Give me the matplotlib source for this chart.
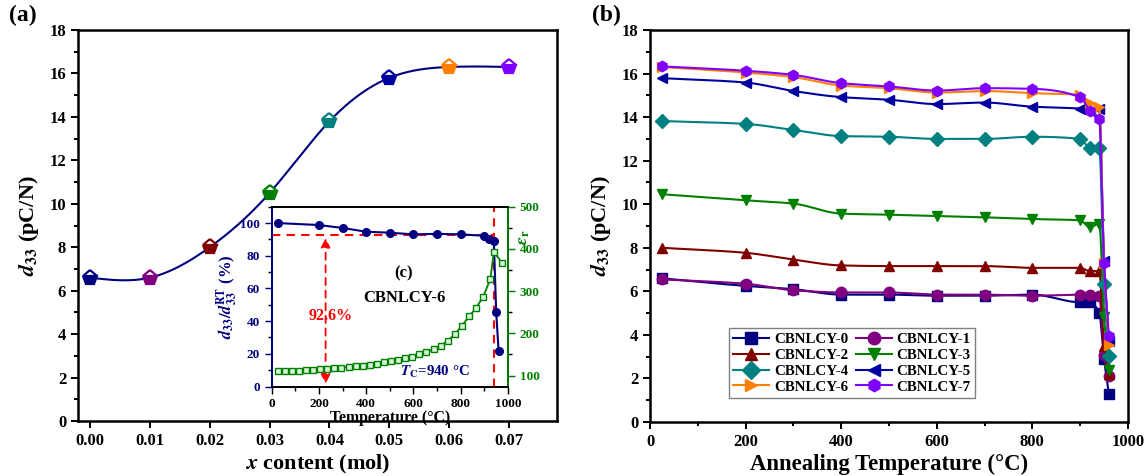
import numpy as np
import matplotlib.pyplot as plt
from matplotlib.lines import Line2D
from matplotlib.ticker import MultipleLocator

plt.rcParams['font.family'] = 'Liberation Serif'
plt.rcParams['font.weight'] = 'bold'
plt.rcParams['axes.labelweight'] = 'bold'
plt.rcParams['mathtext.fontset'] = 'stix'

# (a) d33 vs x content
x_content = [0.00, 0.01, 0.02, 0.03, 0.04, 0.05, 0.06, 0.07]
d33_x = [6.6, 6.6, 8.0, 10.5, 13.8, 15.8, 16.3, 16.3]

# (b) d33 after annealing
anneal_T = [25, 200, 300, 400, 500, 600, 700, 800, 900, 920, 940, 950, 960]
labels = ['CBNLCY-0', 'CBNLCY-1', 'CBNLCY-2', 'CBNLCY-3',
          'CBNLCY-4', 'CBNLCY-5', 'CBNLCY-6', 'CBNLCY-7']
d33_0 = [6.6, 6.25, 6.1, 5.85, 5.85, 5.8, 5.8, 5.85, 5.5, 5.5, 5.0, 2.9, 1.3]
d33_1 = [6.55, 6.35, 6.05, 5.95, 5.95, 5.85, 5.85, 5.8, 5.85, 5.85, 5.8, 3.1, 2.1]
d33_2 = [8.0, 7.77, 7.46, 7.19, 7.16, 7.16, 7.16, 7.08, 7.08, 6.93, 6.93, 3.5, 2.2]
d33_3 = [10.46, 10.18, 10.03, 9.57, 9.52, 9.46, 9.4, 9.32, 9.26, 8.95, 9.1, 4.8, 2.4]
d33_4 = [13.82, 13.69, 13.41, 13.13, 13.1, 13.0, 13.0, 13.1, 13.0, 12.6, 12.6, 6.35, 3.04]
d33_5 = [15.79, 15.59, 15.2, 14.92, 14.8, 14.6, 14.67, 14.48, 14.39, 14.3, 14.36, 7.4, 3.7]
d33_6 = [16.3, 16.05, 15.84, 15.45, 15.33, 15.13, 15.2, 15.1, 15.02, 14.64, 14.48, 7.3, 3.55]
d33_7 = [16.33, 16.13, 15.94, 15.56, 15.41, 15.22, 15.33, 15.3, 14.92, 14.3, 13.9, 7.3, 3.96]
colors = ['#000080', '#800080', '#800000', '#008000',
          '#008080', '#0000A0', '#FF8000', '#8000FF']
markers = ['s', 'o', '^', 'v', 'D', '<', '>', 'h']

# (c) inset: normalised d33 and permittivity of CBNLCY-6
ratio_T = [25, 200, 300, 400, 500, 600, 700, 800, 900, 920, 940, 950, 960]
ratio = [100, 98.8, 97, 94.7, 94.1, 93.1, 93.4, 93.1, 92.2, 90, 89, 45.6, 22]
eps_T = [25, 55, 85, 115, 145, 175, 205, 235, 265, 295, 325, 355, 385, 415,
         445, 475, 505, 535, 565, 595, 625, 655, 685, 715, 745, 775, 805,
         835, 865, 895, 925, 940, 975]
eps_r = [110, 110.5, 111, 111.5, 112.5, 113.5, 114.5, 115.5, 117, 118.5, 120,
         121.5, 123.5, 125.5, 128, 131, 134, 137.5, 141, 145, 150, 156, 163,
         171, 182, 198, 218, 240, 260, 287, 328, 393, 367]
Tc = 940
retention = 92.6


def natural_spline(x, y, xs):
    x = np.asarray(x, float)
    y = np.asarray(y, float)
    n = len(x)
    h = np.diff(x)
    A = np.zeros((n, n))
    b = np.zeros(n)
    A[0, 0] = A[-1, -1] = 1
    for i in range(1, n - 1):
        A[i, i - 1] = h[i - 1]
        A[i, i] = 2 * (h[i - 1] + h[i])
        A[i, i + 1] = h[i]
        b[i] = 3 * ((y[i + 1] - y[i]) / h[i] - (y[i] - y[i - 1]) / h[i - 1])
    c = np.linalg.solve(A, b)
    k = np.clip(np.searchsorted(x, xs) - 1, 0, n - 2)
    dx = xs - x[k]
    bk = (y[k + 1] - y[k]) / h[k] - h[k] * (2 * c[k] + c[k + 1]) / 3
    dk = (c[k + 1] - c[k]) / (3 * h[k])
    return y[k] + bk * dx + c[k] * dx ** 2 + dk * dx ** 3


def pchip(x, y, xs):
    x = np.asarray(x, float)
    y = np.asarray(y, float)
    n = len(x)
    h = np.diff(x)
    delta = np.diff(y) / h
    m = np.zeros(n)
    m[0], m[-1] = delta[0], delta[-1]
    for i in range(1, n - 1):
        if delta[i - 1] * delta[i] > 0:
            w1 = 2 * h[i] + h[i - 1]
            w2 = h[i] + 2 * h[i - 1]
            m[i] = (w1 + w2) / (w1 / delta[i - 1] + w2 / delta[i])
    k = np.clip(np.searchsorted(x, xs) - 1, 0, n - 2)
    t = (xs - x[k]) / h[k]
    h00 = 2 * t ** 3 - 3 * t ** 2 + 1
    h10 = t ** 3 - 2 * t ** 2 + t
    h01 = -2 * t ** 3 + 3 * t ** 2
    h11 = t ** 3 - t ** 2
    return h00 * y[k] + h10 * h[k] * m[k] + h01 * y[k + 1] + h11 * h[k] * m[k + 1]


def style_axis(ax, lw=1.8, size=12):
    for s in ax.spines.values():
        s.set_linewidth(lw)
    ax.tick_params(which='both', direction='out', width=lw * 0.8, labelsize=size)
    ax.tick_params(which='major', length=5)
    ax.tick_params(which='minor', length=3)


fig = plt.figure(figsize=(11.47, 4.76), dpi=100)

# ---- (a) ----
ax1 = fig.add_axes([0.068, 0.1155, 0.4176, 0.8214])
xs = np.linspace(x_content[0], x_content[-1], 300)
ax1.plot(xs, natural_spline(x_content, d33_x, xs), color='#000080', lw=1.5)
for xi, yi, c in zip(x_content, d33_x, colors):
    ax1.plot(xi, yi, marker='p', ms=11, color=c, mec=c, mew=1.6,
             fillstyle='bottom', markerfacecoloralt='white', zorder=3)
ax1.set_xlim(-0.002, 0.078)
ax1.set_ylim(0, 18)
ax1.set_xticks(x_content)
ax1.set_xticklabels([f'{v:.2f}' for v in x_content])
ax1.yaxis.set_major_locator(MultipleLocator(2))
ax1.yaxis.set_minor_locator(MultipleLocator(1))
style_axis(ax1)
ax1.set_xlabel(r'$\mathbfit{x}$ content (mol)', fontsize=16, labelpad=3)
ax1.set_ylabel(r'$\mathbfit{d}_{\mathbf{33}}$ (pC/N)', fontsize=16, labelpad=6)

# ---- (c) inset ----
axc = fig.add_axes([0.2369, 0.188, 0.206, 0.3777])
axc.set_facecolor('white')
axc.plot([0, Tc], [retention, retention], color='#FF0000', lw=1.5, ls=(0, (4, 3)))
axc.axvline(Tc, color='#FF0000', lw=1.5, ls=(0, (4, 3)))
axc.annotate('', xy=(228, 0), xytext=(228, retention),
             arrowprops=dict(arrowstyle='<|-|>', color='#FF0000', lw=1.3,
                             ls=(0, (4, 3)), mutation_scale=14))
axc.plot(ratio_T, ratio, color='#000080', lw=1.5, marker='o', ms=5.5,
         mfc='#000080', mec='#000080', zorder=4)
axc.text(250, 43, '92.6%', color='#FF0000', fontsize=11.5, ha='center', va='center')
axc.text(560, 69, '(c)', fontsize=12, ha='center', va='center')
axc.text(560, 54, 'CBNLCY-6', fontsize=12, ha='center', va='center')
axc.text(690, 9, r'$\mathbfit{T}_{\mathbf{C}}$=940 °C', color='#000080',
         fontsize=10.7, ha='center', va='center')
axc.set_xlim(0, 1000)
axc.set_ylim(0, 110)
axc.xaxis.set_major_locator(MultipleLocator(200))
axc.xaxis.set_minor_locator(MultipleLocator(100))
axc.yaxis.set_major_locator(MultipleLocator(20))
axc.yaxis.set_minor_locator(MultipleLocator(10))
style_axis(axc, lw=1.3, size=9.5)
axc.spines['left'].set_color('#000080')
axc.tick_params(axis='y', colors='#000080')
axc.set_xlabel('Temperature (°C)', fontsize=11.4, labelpad=0)
axc.set_ylabel(r'$\mathbfit{d}_{\mathbf{33}}/\mathbfit{d}_{\mathbf{33}}^{\mathbf{RT}}$ (%)',
               fontsize=12, color='#000080', labelpad=0)

axe = axc.twinx()
axe.plot(eps_T, eps_r, color='#008000', lw=1.3, marker='s', ms=4.5,
         mfc='#d8f2d8', mec='#008000', mew=1.0)
axe.set_ylim(74, 500)
axe.yaxis.set_major_locator(MultipleLocator(100))
axe.yaxis.set_minor_locator(MultipleLocator(50))
style_axis(axe, lw=1.3, size=9.5)
axe.spines['right'].set_color('#008000')
axe.spines['left'].set_color('#000080')
axe.tick_params(axis='y', colors='#008000')
axe.set_ylabel(r'$\mathbfit{\varepsilon}_{\mathbf{r}}$', fontsize=13,
               color='#008000')
axe.yaxis.set_label_coords(1.03, 0.83)

# ---- (b) ----
ax2 = fig.add_axes([0.5667, 0.1134, 0.4167, 0.8235])
series = [d33_0, d33_1, d33_2, d33_3, d33_4, d33_5, d33_6, d33_7]
Ts = np.linspace(anneal_T[0], anneal_T[-1], 600)
handles = []
for vals, c, m, lab in zip(series, colors, markers, labels):
    ax2.plot(Ts, pchip(anneal_T, vals, Ts), color=c, lw=1.5)
    ax2.plot(anneal_T, vals, ls='none', marker=m, ms=7.5, color=c)
    handles.append(Line2D([], [], color=c, lw=1.5, marker=m, ms=9, label=lab))
ax2.set_xlim(0, 1000)
ax2.set_ylim(0, 18)
ax2.xaxis.set_major_locator(MultipleLocator(200))
ax2.xaxis.set_minor_locator(MultipleLocator(100))
ax2.yaxis.set_major_locator(MultipleLocator(2))
ax2.yaxis.set_minor_locator(MultipleLocator(1))
style_axis(ax2)
ax2.set_xlabel('Annealing Temperature (°C)', fontsize=16.4, labelpad=3)
ax2.set_ylabel(r'$\mathbfit{d}_{\mathbf{33}}$ (pC/N)', fontsize=16, labelpad=6)
# legend reads row by row: 0 1 / 2 3 / 4 5 / 6 7
order = [0, 2, 4, 6, 1, 3, 5, 7]
leg = ax2.legend(handles=[handles[i] for i in order], ncol=2, loc='lower left',
                 bbox_to_anchor=(0.165, 0.061), borderaxespad=0, fontsize=10.8,
                 handlelength=2.4, handletextpad=0.3, columnspacing=0.5,
                 labelspacing=0.15, borderpad=0.3, fancybox=False,
                 edgecolor='#808080', framealpha=1)
leg.get_frame().set_linewidth(1.0)

fig.text(0.008, 0.99, '(a)', fontsize=17, va='top')
fig.text(0.516, 0.99, '(b)', fontsize=17, va='top')

fig.savefig('out.png', dpi=100)
